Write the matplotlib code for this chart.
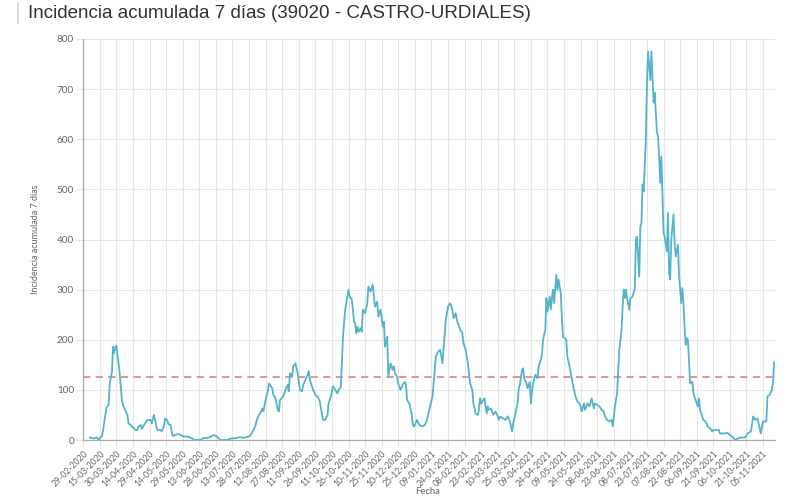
import matplotlib
matplotlib.use("Agg")
import matplotlib.pyplot as plt
import pandas as pd

title = "Incidencia acumulada 7 días (39020 - CASTRO-URDIALES)"
y_label = "Incidencia acumulada 7 días"
x_label = "Fecha"
start_date = "2020-02-29"
threshold = 125
y_ticks = [0, 100, 200, 300, 400, 500, 600, 700, 800]

# day offsets from start_date and the read-off 7-day incidence values
day_offset = [6, 9, 12, 14, 17, 18, 21, 23, 24, 26, 27, 28, 29, 30, 32, 33, 35, 36, 38, 40,
              41, 43, 44, 46, 47, 49, 50, 52, 53, 55, 56, 58, 59, 61, 62, 64, 67, 70, 71, 73,
              74, 76, 77, 79, 80, 81, 83, 86, 88, 91, 94, 97, 101, 106, 109, 112, 115, 118, 121, 124,
              130, 134, 139, 142, 145, 148, 151, 154, 156, 157, 159, 160, 162, 163, 165, 167, 168, 171, 172, 174,
              176, 177, 178, 181, 183, 185, 186, 187, 189, 190, 192, 194, 195, 196, 198, 199, 201, 203, 204, 205,
              207, 208, 210, 212, 214, 216, 217, 219, 221, 222, 224, 225, 226, 228, 230, 231, 233, 234, 235, 237,
              239, 240, 241, 243, 244, 245, 246, 247, 248, 249, 251, 252, 253, 255, 257, 258, 260, 262, 263, 264,
              266, 267, 269, 271, 272, 273, 275, 276, 278, 280, 281, 282, 284, 285, 287, 289, 291, 292, 293, 295,
              297, 298, 299, 300, 302, 304, 307, 309, 311, 313, 316, 318, 319, 321, 323, 325, 326, 328, 329, 330,
              332, 334, 335, 337, 338, 339, 341, 343, 344, 346, 348, 349, 350, 352, 353, 355, 357, 358, 359, 360,
              362, 363, 365, 366, 367, 369, 371, 373, 375, 376, 377, 380, 382, 384, 386, 388, 389, 391, 393, 394,
              395, 397, 398, 399, 401, 402, 404, 405, 406, 407, 409, 411, 412, 414, 415, 416, 418, 419, 420, 422,
              423, 424, 425, 426, 428, 429, 430, 432, 433, 434, 437, 438, 440, 442, 443, 445, 447, 449, 451, 453,
              454, 456, 458, 460, 462, 463, 465, 467, 469, 471, 472, 474, 476, 478, 479, 480, 481, 483, 484, 485,
              487, 488, 489, 490, 491, 492, 494, 495, 497, 499, 500, 501, 503, 504, 505, 506, 507, 509, 510, 511,
              513, 514, 516, 517, 519, 520, 521, 522, 523, 525, 526, 528, 529, 530, 531, 532, 534, 535, 536, 538,
              539, 540, 541, 542, 543, 544, 545, 546, 547, 548, 549, 551, 552, 554, 556, 557, 558, 560, 561, 563,
              565, 567, 569, 570, 573, 575, 576, 579, 583, 585, 587, 590, 593, 596, 599, 601, 604, 605, 606, 608,
              610, 611, 613, 614, 615, 618, 619, 621, 623, 624, 625]
incidence = [5, 3, 5, 1, 8, 20, 64, 70, 113, 136, 186, 173, 186, 188, 153, 133, 80, 70, 60, 50,
             33, 30, 27, 23, 20, 20, 27, 30, 22, 30, 33, 40, 40, 40, 33, 50, 20, 20, 17, 27,
             43, 40, 32, 30, 17, 8, 10, 12, 10, 7, 7, 5, 0, 0, 4, 4, 6, 10, 7, 0,
             0, 3, 4, 6, 4, 6, 8, 20, 30, 40, 50, 53, 63, 57, 80, 97, 113, 103, 90, 83,
             60, 57, 80, 87, 100, 110, 97, 133, 127, 147, 153, 133, 117, 100, 97, 110, 120, 130, 137, 120,
             107, 100, 90, 87, 77, 53, 40, 40, 50, 73, 87, 97, 107, 100, 93, 100, 105, 153, 206, 260,
             286, 300, 286, 280, 260, 236, 233, 213, 226, 216, 223, 216, 260, 253, 273, 306, 296, 310, 286, 266,
             276, 246, 260, 226, 236, 186, 206, 126, 153, 140, 147, 133, 126, 113, 100, 110, 116, 110, 80, 73,
             53, 33, 27, 30, 40, 30, 27, 30, 40, 60, 87, 140, 166, 176, 180, 153, 183, 240, 253, 266,
             273, 260, 243, 253, 240, 233, 220, 213, 193, 180, 153, 133, 113, 100, 73, 53, 50, 60, 83, 73,
             80, 83, 53, 67, 60, 63, 50, 57, 47, 40, 47, 43, 40, 47, 37, 17, 33, 53, 73, 103,
             110, 140, 143, 123, 113, 103, 116, 73, 97, 113, 130, 123, 146, 160, 170, 200, 220, 283, 256, 286,
             260, 283, 300, 273, 330, 300, 320, 293, 246, 206, 200, 166, 146, 123, 110, 90, 77, 73, 57, 73,
             60, 73, 67, 83, 63, 73, 70, 67, 60, 57, 47, 40, 37, 40, 27, 47, 67, 93, 140, 180,
             220, 266, 300, 283, 300, 283, 260, 283, 286, 303, 400, 406, 326, 426, 433, 510, 496, 600, 713, 775,
             718, 775, 673, 693, 613, 606, 566, 513, 566, 413, 406, 376, 453, 333, 320, 400, 450, 393, 366, 390,
             330, 300, 273, 303, 273, 226, 190, 203, 200, 160, 113, 116, 93, 80, 67, 83, 60, 47, 40, 37,
             27, 23, 17, 20, 20, 20, 13, 13, 14, 10, 7, 0, 4, 5, 5, 13, 17, 30, 47, 40,
             43, 33, 13, 27, 37, 37, 87, 90, 100, 113, 155]

start = pd.Timestamp(start_date)
dates = start + pd.to_timedelta(day_offset, unit="D")
tick_dates = pd.date_range(start, periods=42, freq="15D")

plt.rcParams["font.family"] = ["Lato", "DejaVu Sans"]

fig = plt.figure(figsize=(8, 5), dpi=100)
ax = fig.add_axes([0.104, 0.12, 0.865, 0.802])

ax.plot(dates, incidence, color="#55b4c9", linewidth=1.3, zorder=3)
ax.axhline(threshold, color="#e28b8b", linewidth=1.3, linestyle=(0, (4, 3)), zorder=2)

ax.set_ylim(0, 800)
ax.set_yticks(y_ticks)
ax.set_xlim(start, start + pd.Timedelta(days=626))
ax.set_xticks(tick_dates)
ax.set_xticklabels([d.strftime("%d-%m-%Y") for d in tick_dates], rotation=45,
                   ha="right", rotation_mode="anchor", fontsize=6.2, color="#666666")
for lbl in ax.get_yticklabels():
    lbl.set_fontsize(7.2)
    lbl.set_color("#666666")

ax.grid(True, color="#e6e6e6", linewidth=0.8, zorder=0)
ax.set_axisbelow(True)
ax.tick_params(axis="both", length=5, width=0.8, color="#e6e6e6", pad=1.5)
for side in ["top", "right"]:
    ax.spines[side].set_visible(False)
for side in ["left", "bottom"]:
    ax.spines[side].set_color("#aaaaaa")
    ax.spines[side].set_linewidth(0.9)

ax.set_ylabel(y_label, fontsize=6.5, color="#666666", labelpad=12)
fig.text(0.535, 0.016, x_label, fontsize=6.8, color="#666666", ha="center", va="center")

fig.text(0.035, 0.972, title, fontsize=13.5, color="#333333", va="center", ha="left",
         family=["Liberation Sans", "DejaVu Sans"])
fig.add_artist(plt.Rectangle((0.021, 0.953), 0.003, 0.042, transform=fig.transFigure,
                             color="#dddddd", linewidth=0))

fig.savefig("out.png", dpi=100)
